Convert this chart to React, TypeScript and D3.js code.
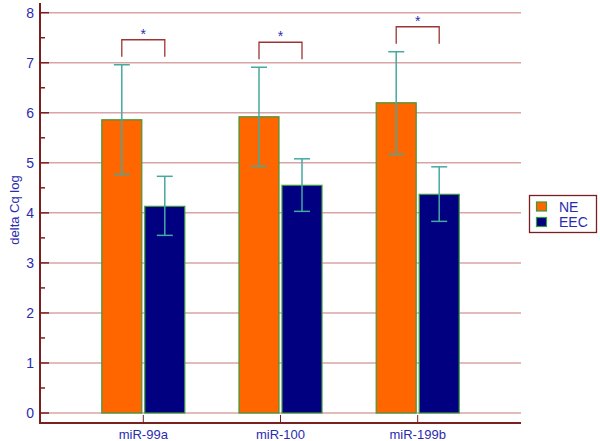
import React from "react";
import * as d3 from "d3";

const categories = ["miR-99a", "miR-100", "miR-199b"];
const seriesNames = ["NE", "EEC"];
const neValues = [5.86, 5.92, 6.2];
const neLow = [4.77, 4.93, 5.17];
const neHigh = [6.96, 6.91, 7.22];
const eecValues = [4.13, 4.55, 4.37];
const eecLow = [3.55, 4.03, 3.83];
const eecHigh = [4.73, 5.08, 4.92];
const yTicks = [0, 1, 2, 3, 4, 5, 6, 7, 8];
const yMinorTicks = [0.5, 1.5, 2.5, 3.5, 4.5, 5.5, 6.5, 7.5];
const yLabel = "delta Cq log";

const colors = ["#ff6600", "#000080"];
const axisColor = "#7a1f1f";
const gridColor = "#d8a4a4";
const textColor = "#2b2bb0";
const errColor = "#45a9a0";
const barStroke = "#3c9a3c";
const bracketColor = "#9b3535";

export default function App() {
  const W = 600, H = 441;
  const left = 40, right = 521, axisY = 423;
  const y = d3.scaleLinear().domain([0, 8]).range([413, 12.7]);
  const x = d3.scalePoint<string>().domain(categories).range([143.3, 417.7]);
  const barW = 40, gap = 1.5;
  const series = [
    { name: seriesNames[0], vals: neValues, lo: neLow, hi: neHigh, off: -gap - barW / 2 },
    { name: seriesNames[1], vals: eecValues, lo: eecLow, hi: eecHigh, off: gap + barW / 2 },
  ];
  const font = "Arial, 'Liberation Sans', sans-serif";
  return (
    <svg width={W} height={H} style={{ position: "absolute", left: 0, top: 0 }} fontFamily={font}>
      <rect width={W} height={H} fill="#fff" />
      {yTicks.map((t) => (
        <line key={"g" + t} x1={left} x2={right} y1={y(t)} y2={y(t)} stroke={gridColor} strokeWidth={1.5} />
      ))}
      {series.map((s, si) =>
        categories.map((c, i) => {
          const cx = (x(c) as number) + s.off;
          return (
            <g key={s.name + c}>
              <rect x={cx - barW / 2} y={y(s.vals[i])} width={barW} height={y(0) - y(s.vals[i])}
                fill={colors[si]} stroke={barStroke} strokeWidth={1.2} />
              <line x1={cx} x2={cx} y1={y(s.hi[i])} y2={y(s.lo[i])} stroke={errColor} strokeWidth={1.5} />
              <line x1={cx - 8} x2={cx + 8} y1={y(s.hi[i])} y2={y(s.hi[i])} stroke={errColor} strokeWidth={1.5} />
              <line x1={cx - 8} x2={cx + 8} y1={y(s.lo[i])} y2={y(s.lo[i])} stroke={errColor} strokeWidth={1.5} />
            </g>
          );
        })
      )}
      {categories.map((c, i) => {
        const x1 = (x(c) as number) + series[0].off;
        const x2 = (x(c) as number) + series[1].off;
        const top = Math.max(neHigh[i], eecHigh[i]);
        const yb = y(top) - 8;
        const yt = yb - 17;
        return (
          <g key={"b" + c}>
            <path d={`M${x1},${yb}V${yt}H${x2}V${yb}`} fill="none" stroke={bracketColor} strokeWidth={1.3} />
            <text x={(x1 + x2) / 2} y={yt - 1} textAnchor="middle" fontSize={14} fill={textColor}>*</text>
          </g>
        );
      })}
      {/* axes */}
      <line x1={left} x2={left} y1={3} y2={axisY + 1} stroke={axisColor} strokeWidth={2} />
      <line x1={left - 1} x2={right} y1={axisY} y2={axisY} stroke={axisColor} strokeWidth={2} />
      {yTicks.map((t) => (
        <g key={"t" + t}>
          <line x1={left} x2={left + 9} y1={y(t)} y2={y(t)} stroke={axisColor} strokeWidth={1.5} />
          <text x={34} y={y(t)} dy="0.36em" textAnchor="end" fontSize={14} fill={textColor}>{t}</text>
        </g>
      ))}
      {yMinorTicks.map((t) => (
        <line key={"m" + t} x1={left} x2={left + 5} y1={y(t)} y2={y(t)} stroke={axisColor} strokeWidth={1.5} />
      ))}
      {categories.map((c) => (
        <g key={"c" + c}>
          <line x1={x(c)} x2={x(c)} y1={axisY} y2={axisY - 8} stroke={axisColor} strokeWidth={1} />
          <text x={x(c)} y={434} dy="0.36em" textAnchor="middle" fontSize={13} fill={textColor}>{c}</text>
        </g>
      ))}
      <text transform={`translate(14,210) rotate(-90)`} textAnchor="middle" dy="0.36em" fontSize={13} fill={textColor}>{yLabel}</text>
      {/* legend */}
      <rect x={529.5} y={195.5} width={67} height={37} fill="#fff" stroke={axisColor} strokeWidth={1.3} />
      {seriesNames.map((n, i) => (
        <g key={"l" + n}>
          <rect x={536.5} y={202 + i * 15.5} width={10} height={9} fill={colors[i]} stroke={barStroke} strokeWidth={1.2} />
          <text x={559} y={206.5 + i * 15.5} dy="0.36em" fontSize={14} fill={textColor}>{n}</text>
        </g>
      ))}
    </svg>
  );
}
